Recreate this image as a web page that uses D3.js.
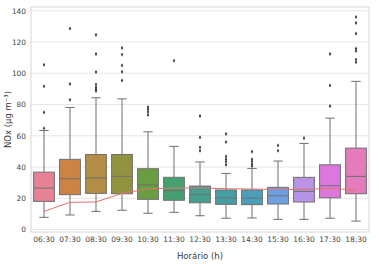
<!DOCTYPE html>
<html>
<head>
<meta charset="utf-8">
<script src="https://cdn.jsdelivr.net/npm/d3@7"></script>
<style>
  body { margin: 0; background: #fff; }
  text { font-family: "DejaVu Sans", sans-serif; fill: #3a3a3a; }
</style>
</head>
<body>
<div id="chart"></div>
<script>
// hourly NOx distribution
var hours = ['06:30', '07:30', '08:30', '09:30', '10:30', '11:30', '12:30',
             '13:30', '14:30', '15:30', '16:30', '17:30', '18:30'];
var q1     = [18, 22.3, 23.1, 22.9, 19.3, 18.7, 17.1, 16.1, 15.9, 16.3, 17.6, 20.3, 22.9];
var median = [26.5, 32.5, 32.9, 34, 28.5, 24.8, 22.3, 20.3, 20.1, 21.6, 24.4, 28, 34];
var q3     = [36.7, 44.9, 48, 48, 38.9, 33.4, 27.8, 25.3, 25.3, 27, 33.4, 41.4, 52.1];
var whiskLo = [7.8, 9.3, 11.6, 12.3, 10.4, 11, 8.8, 7.2, 7.4, 6.5, 6.5, 7.2, 5.4];
var whiskHi = [63.4, 78.1, 84.3, 83.6, 62.5, 53.2, 43.2, 35.9, 39.1, 43.8, 55.1, 71.3, 94.8];
var outliers = [
  [64.8, 75, 91.7, 105.4],
  [83, 93.2, 128.6],
  [88.7, 89.8, 91, 92.8, 100.8, 112.4, 124.6],
  [95.4, 100.9, 105, 112, 116.2],
  [73.3, 75.2, 76.8, 78.3],
  [108],
  [50.4, 52.6, 59, 72.6],
  [41.4, 43.4, 45, 46.8, 56, 61.2],
  [40.6, 41.9, 43.6, 44.9, 49.8],
  [50.4, 53.8],
  [58.5],
  [79, 92.2, 112.4],
  [107.1, 108.8, 114.3, 115.8, 125.4, 132.2, 136]
];
var refLine = [11.6, 17.4, 17.6, 23.1, 26.1, 26.5, 26.7, 26.1, 25.9, 25.5, 25.7, 26.3, 25.3];
var yTicks = [0, 20, 40, 60, 80, 100, 120, 140];

// husl-like palette, desaturated like seaborn boxes
var baseColors = ['#f77189', '#e5802f', '#c39532', '#9ea131', '#65ae31', '#35af6e', '#35ae99',
                  '#37acb2', '#39a7d0', '#5d9cf2', '#b586f4', '#ec66ee', '#f669bd'];
var boxColors = baseColors.map(function(c) {
  var h = d3.hsl(c);
  h.s = h.s * 0.75;
  return h.formatHex();
});

var width = 379, height = 264;
var margin = {top: 7, right: 10, bottom: 32, left: 31};

var svg = d3.select('#chart').append('svg')
  .attr('width', width)
  .attr('height', height);

var x = d3.scaleBand()
  .domain(hours)
  .range([margin.left, width - margin.right])
  .paddingInner(0)
  .paddingOuter(0);

var y = d3.scaleLinear()
  .domain([-1.6, 142.4])
  .range([height - margin.bottom, margin.top]);

// grid
svg.append('g').selectAll('line')
  .data(yTicks)
  .join('line')
  .attr('x1', margin.left)
  .attr('x2', width - margin.right)
  .attr('y1', function(d) { return y(d); })
  .attr('y2', function(d) { return y(d); })
  .attr('stroke', '#e6e6e6')
  .attr('stroke-width', 1);

// frame
svg.append('rect')
  .attr('x', margin.left)
  .attr('y', margin.top)
  .attr('width', width - margin.left - margin.right)
  .attr('height', height - margin.top - margin.bottom)
  .attr('fill', 'none')
  .attr('stroke', '#d6d6d6')
  .attr('stroke-width', 1);

// axes (labels only, seaborn whitegrid look)
var yAxis = svg.append('g')
  .attr('transform', 'translate(' + margin.left + ',0)')
  .call(d3.axisLeft(y).tickValues(yTicks).tickSize(0).tickPadding(5));
yAxis.select('.domain').remove();
yAxis.selectAll('text').style('font-size', '7.4px').style('fill', '#444');

var xAxis = svg.append('g')
  .attr('transform', 'translate(0,' + (height - margin.bottom) + ')')
  .call(d3.axisBottom(x).tickSize(0).tickPadding(5));
xAxis.select('.domain').remove();
xAxis.selectAll('text').style('font-size', '7.5px').style('fill', '#444');

var lineGray = '#6f6f6f';
var boxW = x.bandwidth() * 0.8;
var capW = boxW * 0.45;

var boxes = svg.append('g').selectAll('g')
  .data(hours)
  .join('g')
  .attr('transform', function(d) { return 'translate(' + (x(d) + x.bandwidth() / 2) + ',0)'; });

// whiskers
boxes.append('line')
  .attr('y1', function(d, i) { return y(q3[i]); })
  .attr('y2', function(d, i) { return y(whiskHi[i]); })
  .attr('stroke', lineGray);
boxes.append('line')
  .attr('y1', function(d, i) { return y(q1[i]); })
  .attr('y2', function(d, i) { return y(whiskLo[i]); })
  .attr('stroke', lineGray);
boxes.append('line')
  .attr('x1', -capW / 2).attr('x2', capW / 2)
  .attr('y1', function(d, i) { return y(whiskHi[i]); })
  .attr('y2', function(d, i) { return y(whiskHi[i]); })
  .attr('stroke', lineGray);
boxes.append('line')
  .attr('x1', -capW / 2).attr('x2', capW / 2)
  .attr('y1', function(d, i) { return y(whiskLo[i]); })
  .attr('y2', function(d, i) { return y(whiskLo[i]); })
  .attr('stroke', lineGray);

// boxes
boxes.append('rect')
  .attr('x', -boxW / 2)
  .attr('width', boxW)
  .attr('y', function(d, i) { return y(q3[i]); })
  .attr('height', function(d, i) { return y(q1[i]) - y(q3[i]); })
  .attr('fill', function(d, i) { return boxColors[i]; })
  .attr('stroke', lineGray)
  .attr('stroke-width', 1);

boxes.append('line')
  .attr('x1', -boxW / 2).attr('x2', boxW / 2)
  .attr('y1', function(d, i) { return y(median[i]); })
  .attr('y2', function(d, i) { return y(median[i]); })
  .attr('stroke', lineGray)
  .attr('stroke-width', 1);

// fliers as small diamonds
var diamond = d3.symbol().type(d3.symbolDiamond).size(5);
boxes.each(function(d, i) {
  d3.select(this).selectAll('path.flier')
    .data(outliers[i])
    .join('path')
    .attr('class', 'flier')
    .attr('d', diamond)
    .attr('transform', function(v) { return 'translate(0,' + y(v) + ')'; })
    .attr('fill', '#3d3d3d');
});

// red reference line
var line = d3.line()
  .x(function(d, i) { return x(hours[i]) + x.bandwidth() / 2; })
  .y(function(d) { return y(d); });
svg.append('path')
  .datum(refLine)
  .attr('d', line)
  .attr('fill', 'none')
  .attr('stroke', '#e5706f')
  .attr('stroke-width', 1);

// axis titles
svg.append('text')
  .attr('x', (margin.left + width - margin.right) / 2)
  .attr('y', 259)
  .attr('text-anchor', 'middle')
  .style('font-size', '8.5px')
  .text('Horário (h)');

svg.append('text')
  .attr('transform', 'translate(11,' + ((margin.top + height - margin.bottom) / 2) + ') rotate(-90)')
  .attr('text-anchor', 'middle')
  .style('font-size', '8.5px')
  .text('NOx (μg m⁻³)');
</script>
</body>
</html>
